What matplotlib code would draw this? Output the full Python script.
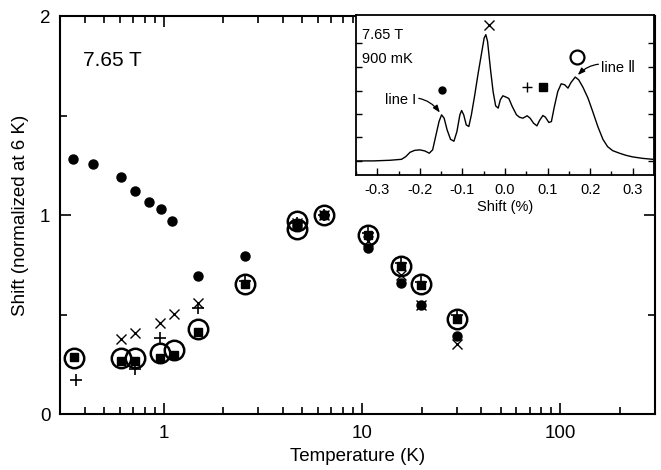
import matplotlib
matplotlib.use("Agg")
import matplotlib.pyplot as plt
from matplotlib.ticker import FixedLocator, LogLocator, NullFormatter, MultipleLocator

plt.rcParams["font.family"] = ["Liberation Sans", "DejaVu Sans"]

# main panel: shift vs temperature, one list per marker type
t_dot = [0.35, 0.44, 0.61, 0.715, 0.84, 0.965, 1.1, 1.49, 2.58, 4.7, 6.44, 10.7, 15.8, 19.9, 30.1]
s_dot = [1.283, 1.258, 1.192, 1.122, 1.065, 1.029, 0.972, 0.695, 0.796, 0.95, 1.0, 0.835, 0.658, 0.549, 0.393]

t_circ = [0.354, 0.608, 0.715, 0.96, 1.127, 1.49, 2.58, 4.7, 4.7, 6.44, 10.7, 15.8, 19.9, 30.1]
s_circ = [0.284, 0.28, 0.28, 0.309, 0.321, 0.427, 0.653, 0.97, 0.93, 1.0, 0.902, 0.746, 0.653, 0.477]

t_sq = [0.354, 0.608, 0.715, 0.96, 1.127, 1.49, 2.58, 4.7, 6.44, 10.7, 15.8, 19.9, 30.1]
s_sq = [0.287, 0.267, 0.267, 0.28, 0.296, 0.41, 0.653, 0.95, 1.0, 0.9, 0.745, 0.65, 0.48]

t_plus = [0.36, 0.72, 0.96, 1.49, 2.58, 4.7, 6.44, 10.7, 15.8, 19.9, 30.1]
s_plus = [0.17, 0.225, 0.384, 0.535, 0.67, 0.96, 1.0, 0.91, 0.76, 0.665, 0.5]

t_cross = [0.61, 0.72, 0.96, 1.13, 1.49, 4.7, 6.44, 10.7, 15.8, 19.9, 30.1]
s_cross = [0.376, 0.405, 0.455, 0.505, 0.56, 0.96, 1.0, 0.87, 0.7, 0.55, 0.351]

# inset: NMR spectrum at 900 mK (intensity, arb. units)
shift_pct = [-0.348, -0.309, -0.270, -0.243, -0.233, -0.223, -0.212, -0.200, -0.188, -0.178,
             -0.170, -0.163, -0.155, -0.149, -0.143, -0.136, -0.128, -0.120, -0.113, -0.106,
             -0.102, -0.097, -0.091, -0.085, -0.079, -0.071, -0.063, -0.055, -0.049, -0.045,
             -0.041, -0.034, -0.028, -0.022, -0.016, -0.011, -0.005, 0.003, 0.009, 0.017,
             0.027, 0.034, 0.042, 0.052, 0.059, 0.067, 0.075, 0.081, 0.089, 0.095,
             0.103, 0.109, 0.116, 0.124, 0.132, 0.140, 0.148, 0.155, 0.165, 0.173,
             0.183, 0.195, 0.206, 0.218, 0.230, 0.241, 0.253, 0.269, 0.284, 0.300,
             0.323, 0.347]
intensity = [0.088, 0.088, 0.092, 0.098, 0.115, 0.142, 0.154, 0.157, 0.150, 0.136,
             0.157, 0.240, 0.334, 0.376, 0.355, 0.282, 0.223, 0.211, 0.271, 0.376,
             0.403, 0.376, 0.313, 0.303, 0.376, 0.501, 0.637, 0.762, 0.856, 0.877,
             0.835, 0.658, 0.522, 0.432, 0.418, 0.470, 0.495, 0.486, 0.478, 0.428,
             0.376, 0.361, 0.355, 0.370, 0.355, 0.324, 0.307, 0.340, 0.372, 0.361,
             0.328, 0.334, 0.428, 0.522, 0.570, 0.564, 0.543, 0.578, 0.612, 0.595,
             0.549, 0.480, 0.397, 0.303, 0.223, 0.177, 0.152, 0.136, 0.123, 0.113,
             0.104, 0.098]
inset_yticks = [0.088, 0.235, 0.381, 0.528, 0.675, 0.822]

# marker keys above the spectrum lines
key_marker = ["x", "o", "+", "s", "O"]
key_x = [-0.0375, -0.149, 0.052, 0.089, 0.169]
key_y = [0.94, 0.53, 0.55, 0.55, 0.737]

fig = plt.figure(figsize=(6.61, 4.70), dpi=100)
ax = fig.add_axes([0.0908, 0.1191, 0.9002, 0.8468])

ax.plot(t_circ, s_circ, ls="none", marker="o", ms=14, mfc="none", mec="black", mew=1.8, zorder=3)
ax.plot(t_dot, s_dot, ls="none", marker="o", ms=6.5, mfc="black", mec="black", zorder=4)
ax.plot(t_sq, s_sq, ls="none", marker="s", ms=5.5, mfc="black", mec="black", zorder=4)
ax.plot(t_plus, s_plus, ls="none", marker="+", ms=9, mec="black", mew=1.2, zorder=4)
ax.plot(t_cross, s_cross, ls="none", marker="x", ms=7.5, mec="black", mew=1.0, zorder=4)

ax.set_xscale("log")
ax.set_xlim(0.3, 300)
ax.set_ylim(0, 2)
ax.xaxis.set_major_locator(FixedLocator([1, 10, 100]))
ax.xaxis.set_minor_locator(LogLocator(base=10, subs=range(2, 10)))
ax.xaxis.set_minor_formatter(NullFormatter())
ax.set_xticklabels(["1", "10", "100"])
ax.yaxis.set_major_locator(MultipleLocator(1))
ax.yaxis.set_minor_locator(MultipleLocator(0.5))
ax.tick_params(which="both", direction="in", top=True, right=True, width=1.2, labelsize=13.5)
ax.tick_params(which="major", length=8)
ax.tick_params(axis="x", which="major", pad=8)
ax.tick_params(axis="y", which="major", pad=7)
ax.tick_params(which="minor", length=5)
for sp in ax.spines.values():
    sp.set_linewidth(1.5)
ax.set_xlabel("Temperature (K)", fontsize=13.5, labelpad=4)
ax.set_ylabel("Shift (normalized at 6 K)", fontsize=13.5, labelpad=8)
ax.text(0.039, 0.875, "7.65 T", transform=ax.transAxes, fontsize=15)

# inset
ins = fig.add_axes([0.5386, 0.6277, 0.4508, 0.3404])
ins.set_facecolor("white")
ins.plot(shift_pct, intensity, color="black", lw=1.0)
for m, xk, yk in zip(key_marker, key_x, key_y):
    if m == "O":
        ins.plot(xk, yk, marker="o", ms=10, mfc="none", mec="black", mew=1.6)
    elif m == "o":
        ins.plot(xk, yk, marker="o", ms=5, color="black")
    elif m == "s":
        ins.plot(xk, yk, marker="s", ms=5.5, color="black")
    else:
        ins.plot(xk, yk, marker=m, ms=7, mec="black", mew=1.0)
ins.set_xlim(-0.35, 0.35)
ins.set_ylim(0, 1)
ins.xaxis.set_minor_locator(MultipleLocator(0.05))
ins.set_xticks([-0.3, -0.2, -0.1, 0.0, 0.1, 0.2, 0.3])
ins.set_xticklabels(["-0.3", "-0.2", "-0.1", "0.0", "0.1", "0.2", "0.3"])
ins.yaxis.set_major_locator(FixedLocator(inset_yticks))
ins.set_yticklabels([])
ins.tick_params(which="both", direction="in", right=True, width=1.0, labelsize=10.5)
ins.tick_params(which="major", length=5, pad=6)
ins.tick_params(which="minor", length=3)
ins.tick_params(axis="y", which="major", length=4)
for sp in ins.spines.values():
    sp.set_linewidth(1.3)
ins.set_xlabel("Shift (%)", fontsize=10.5, labelpad=2)
ins.text(-0.337, 0.85, "7.65 T", fontsize=10.5)
ins.text(-0.337, 0.70, "900 mK", fontsize=10.5)
ins.annotate("line I", xy=(-0.153, 0.39), xytext=(-0.209, 0.47), fontsize=10.5,
             ha="right", va="center",
             arrowprops=dict(arrowstyle="-|>,head_length=0.4,head_width=0.15", color="black",
                             lw=0.9, connectionstyle="arc3,rad=-0.35", shrinkA=0, shrinkB=0))
ins.annotate("line \u2161", xy=(0.171, 0.625), xytext=(0.226, 0.668), fontsize=10.5,
             ha="left", va="center",
             arrowprops=dict(arrowstyle="-|>,head_length=0.4,head_width=0.15", color="black",
                             lw=0.9, connectionstyle="arc3,rad=0.35", shrinkA=0, shrinkB=0))

fig.savefig("out.png", dpi=100)
